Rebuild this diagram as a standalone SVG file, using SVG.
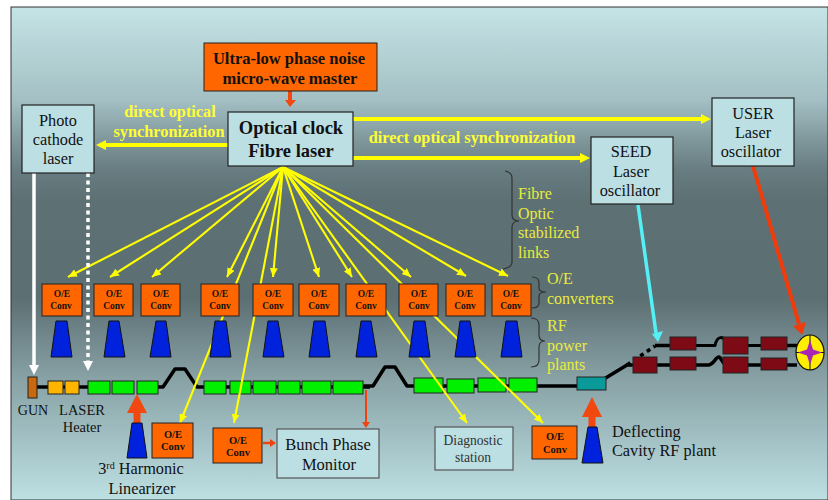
<svg xmlns="http://www.w3.org/2000/svg" width="828" height="500" viewBox="0 0 828 500">
<style>
text{font-family:"Liberation Serif",serif;fill:#111;text-anchor:middle}
.b{font-weight:bold}
.y{fill:#e9ec3c;text-anchor:start;font-size:16px}
.yb{fill:#ffff33;font-weight:bold;font-size:16.3px}
.box{fill:#bcdfe3;stroke:#222;stroke-width:1.2}
.oe{fill:#ff6600;stroke:#222;stroke-width:1}
.kl{fill:#0022dd;stroke:#111;stroke-width:1}
.g{fill:#00f000;stroke:#222;stroke-width:1}
.r{fill:#7d0a14;stroke:#222;stroke-width:1}
.fl{stroke:#ffff00;stroke-width:2.1;fill:none}
.tl{stroke:#ffff00;stroke-width:4;fill:none}
.bl{stroke:#000;stroke-width:3.5;fill:none;stroke-linejoin:round}
.br{stroke:#333;stroke-width:1.2;fill:none}
.c{font-size:9.5px;font-weight:bold}
.cl{font-size:10.5px;font-weight:bold}
.t16{font-size:16.3px}
</style>
<defs>
<linearGradient id="bg" x1="0" y1="0" x2="0" y2="1">
<stop offset="0" stop-color="#c5e4e6"/><stop offset="0.19" stop-color="#a3bfc3"/><stop offset="0.27" stop-color="#7f979b"/><stop offset="0.33" stop-color="#687d81"/><stop offset="0.39" stop-color="#5d7175"/><stop offset="0.59" stop-color="#5c6f73"/><stop offset="0.755" stop-color="#88a2a6"/><stop offset="1" stop-color="#bde0e3"/>
</linearGradient>
<marker id="ym" markerWidth="10" markerHeight="8" refX="9" refY="4" orient="auto" markerUnits="userSpaceOnUse"><path d="M0 0L9 4L0 8z" fill="#ffff00"/></marker>
<marker id="yM" markerWidth="10" markerHeight="10" refX="0" refY="5" orient="auto" markerUnits="userSpaceOnUse"><path d="M0 0L10 5L0 10z" fill="#ffff00"/></marker>
</defs>
<rect x="0" y="0" width="828" height="500" fill="#fff"/>
<rect x="11" y="7" width="817" height="493" fill="url(#bg)" stroke="#333" stroke-width="1"/>
<g id="beamline">
<path class="bl" d="M36 387H88"/>
<path class="bl" d="M156 387H163L175 369H185L197 387H370"/>
<path class="bl" d="M362 386H373L385 367H395L407 386H580"/>
<path class="bl" d="M604 379L627 365H640"/>
<path class="bl" d="M627 365L655 346" stroke-dasharray="4 4"/>
<path class="bl" d="M655 345.500H672"/>
<path class="bl" d="M694 345.500H715C717 336 724 334 727 345.500H790" style="stroke-width:3"/>
<path class="bl" d="M655 365H708C714 365 716 356 719 357C722 358 722 365 728 365H797"/>
<path class="bl" d="M780 345.500H797"/>
</g>
<g id="accel">
<rect class="g" x="88" y="381" width="22" height="13"/><rect class="g" x="112" y="381" width="22" height="13"/><rect class="g" x="137" y="381" width="21" height="13"/>
<rect class="g" x="204" y="381" width="22" height="13"/><rect class="g" x="230" y="381" width="21" height="13"/><rect class="g" x="253" y="381" width="23" height="13"/><rect class="g" x="278" y="381" width="22" height="13"/><rect class="g" x="302" y="381" width="29" height="13"/><rect class="g" x="333" y="381" width="30" height="13"/>
<rect class="g" x="414" y="378" width="29" height="15"/><rect class="g" x="447" y="379" width="27" height="14"/><rect class="g" x="478" y="378" width="28" height="14"/><rect class="g" x="509" y="378" width="28" height="14"/>
</g>
<g id="connectors">
<path class="tl" d="M353 119H701" marker-end="url(#yM)"/>
<path class="tl" d="M353 158H580" marker-end="url(#yM)"/>
<path class="tl" d="M228 145H106" marker-end="url(#yM)"/>
<g class="fl">
<path d="M283 167L68 277" marker-end="url(#ym)"/>
<path d="M283 167L110 277" marker-end="url(#ym)"/>
<path d="M283 167L152 277" marker-end="url(#ym)"/>
<path d="M283 167L227 277" marker-end="url(#ym)"/>
<path d="M283 167L273 277" marker-end="url(#ym)"/>
<path d="M283 167L319 277" marker-end="url(#ym)"/>
<path d="M283 167L352 277" marker-end="url(#ym)"/>
<path d="M283 167L411 277" marker-end="url(#ym)"/>
<path d="M283 167L466 276" marker-end="url(#ym)"/>
<path d="M283 167L508 276" marker-end="url(#ym)"/>
<path d="M283 167L180 423" marker-end="url(#ym)"/>
<path d="M283 167L234 423" marker-end="url(#ym)"/>
<path d="M283 167L467 423" marker-end="url(#ym)"/>
<path d="M283 167L543 423" marker-end="url(#ym)"/>
</g>
<path d="M34 173V366" stroke="#fff" stroke-width="3.500" fill="none"/>
<path d="M29 365H39L34 375z" fill="#fff"/>
<path d="M88 173V363" stroke="#fff" stroke-width="3.500" stroke-dasharray="4 3.500" fill="none"/>
<path d="M83 361H93L88 371z" fill="#fff"/>
<path d="M753 166L799 324" stroke="#f03c0a" stroke-width="4" fill="none"/>
<path d="M793 326L806 322L802 335z" fill="#f03c0a"/>
<path d="M638 205L656 333" stroke="#55f0f5" stroke-width="3.500" fill="none"/>
<path d="M652 334L663 331L658 342z" fill="#55f0f5"/>
<path d="M290 91V101" stroke="#f0480f" stroke-width="4"/>
<path d="M285 100H296L290 107z" fill="#f0480f"/>
<path d="M137 423V412" stroke="#f0480f" stroke-width="7"/>
<path d="M127 413H147L137 394z" fill="#f0480f"/>
<path d="M592 427V416" stroke="#f0480f" stroke-width="7"/>
<path d="M582 417H602L592 397z" fill="#f0480f"/>
<path d="M366 390V424" stroke="#f0420f" stroke-width="2"/>
<path d="M362 422H370L366 428z" fill="#f0420f"/>
<path d="M263 443H271" stroke="#f0420f" stroke-width="2.500"/>
<path d="M270 439L276 443L270 447z" fill="#f0420f"/>
</g>
<g id="n-master"><rect class="oe" x="204" y="43" width="173" height="48"/><text class="b" x="289" y="64" font-size="16.500">Ultra-low phase noise</text><text class="b" x="290" y="84" font-size="16.500">micro-wave master</text></g>
<g id="n-clock"><rect class="box" x="228" y="112" width="125" height="54"/><text class="b" x="291" y="134" font-size="18.500">Optical clock</text><text class="b" x="291" y="157" font-size="18.500">Fibre laser</text></g>
<g id="n-photo"><rect class="box" x="22" y="105" width="72" height="68"/><text class="t16" x="58" y="126">Photo</text><text class="t16" x="58" y="145">cathode</text><text class="t16" x="58" y="164">laser</text></g>
<g id="n-seed"><rect class="box" x="591" y="137" width="82" height="67"/><text class="t16" x="631" y="157">SEED</text><text class="t16" x="631" y="177">Laser</text><text class="t16" x="630" y="196">oscillator</text></g>
<g id="n-user"><rect class="box" x="712" y="98" width="82" height="68"/><text class="t16" x="753" y="119">USER</text><text class="t16" x="753" y="138">Laser</text><text class="t16" x="751" y="157">oscillator</text></g>
<text class="yb" x="170" y="117">direct optical</text>
<text class="yb" x="169" y="137">synchronization</text>
<text class="yb" x="472" y="143">direct optical synchronization</text>
<g id="labels-right">
<path class="br" d="M505 171C510 172 512 174 512 178V215C512 219 514 221 519 221C514 221 512 223 512 227V262C512 266 509 268 503 269"/>
<text class="y" x="518" y="199">Fibre</text>
<text class="y" x="518" y="219">Optic</text>
<text class="y" x="518" y="238">stabilized</text>
<text class="y" x="518" y="258">links</text>
<path class="br" d="M532 277C537 277 539 279 539 283V288C539 291 541 292 546 292C541 292 539 293 539 296V303C539 306 537 308 532 308"/>
<text class="y" x="547" y="284">O/E</text>
<text class="y" x="547" y="304">converters</text>
<path class="br" d="M531 318C536 318 539 320 539 325V335C539 339 541 341 545 341C541 341 539 343 539 347V360C539 365 536 367 531 367"/>
<text class="y" x="547" y="331">RF</text>
<text class="y" x="547" y="351">power</text>
<text class="y" x="547" y="370">plants</text>
</g>
<g id="n-oe1"><rect class="oe" x="42" y="284" width="40" height="32"/><text class="c" x="62" y="297">O/E</text><text class="c" x="61" y="309">Conv</text></g>
<g id="n-oe2"><rect class="oe" x="94" y="284" width="39" height="32"/><text class="c" x="114" y="297">O/E</text><text class="c" x="114" y="309">Conv</text></g>
<g id="n-oe3"><rect class="oe" x="141" y="284" width="39" height="32"/><text class="c" x="161" y="297">O/E</text><text class="c" x="161" y="309">Conv</text></g>
<g id="n-oe4"><rect class="oe" x="201" y="284" width="38" height="32"/><text class="c" x="220" y="297">O/E</text><text class="c" x="220" y="309">Conv</text></g>
<g id="n-oe5"><rect class="oe" x="253" y="284" width="40" height="32"/><text class="c" x="273" y="297">O/E</text><text class="c" x="273" y="309">Conv</text></g>
<g id="n-oe6"><rect class="oe" x="299" y="284" width="40" height="32"/><text class="c" x="319" y="297">O/E</text><text class="c" x="319" y="309">Conv</text></g>
<g id="n-oe7"><rect class="oe" x="346" y="284" width="40" height="32"/><text class="c" x="366" y="297">O/E</text><text class="c" x="366" y="309">Conv</text></g>
<g id="n-oe8"><rect class="oe" x="399" y="284" width="39" height="32"/><text class="c" x="419" y="297">O/E</text><text class="c" x="419" y="309">Conv</text></g>
<g id="n-oe9"><rect class="oe" x="446" y="284" width="39" height="32"/><text class="c" x="465" y="297">O/E</text><text class="c" x="465" y="309">Conv</text></g>
<g id="n-oe10"><rect class="oe" x="492" y="284" width="39" height="32"/><text class="c" x="511" y="297">O/E</text><text class="c" x="511" y="309">Conv</text></g>
<g id="klystrons">
<path class="kl" d="M56 321H67L72 357H51z"/>
<path class="kl" d="M109 321H119L125 357H104z"/>
<path class="kl" d="M156 321H166L171 357H150z"/>
<path class="kl" d="M215 321H226L231 357H210z"/>
<path class="kl" d="M268 321H278L284 357H263z"/>
<path class="kl" d="M314 321H325L330 357H309z"/>
<path class="kl" d="M361 321H371L377 357H356z"/>
<path class="kl" d="M414 321H425L430 357H409z"/>
<path class="kl" d="M460 321H470L476 357H455z"/>
<path class="kl" d="M506 321H517L522 357H501z"/>
<path class="kl" d="M132 423H142L147 458H127z"/>
<path class="kl" d="M588 427H597L603 463H582z"/>
</g>
<g id="n-gun"><rect x="28" y="377" width="9" height="21" fill="#c8690f" stroke="#222"/><text x="33" y="415" font-size="14">GUN</text></g>
<g id="n-heater"><rect x="48" y="381" width="15" height="13" fill="#ffb400" stroke="#222"/><rect x="65" y="381" width="14" height="13" fill="#ffb400" stroke="#222"/><text x="82" y="415" font-size="14.500">LASER</text><text x="82" y="432" font-size="14.500">Heater</text></g>
<g id="n-deflector"><rect x="577" y="377" width="29" height="13" fill="#0a9a9a" stroke="#222"/></g>
<g id="undulators">
<rect class="r" x="670" y="337" width="26" height="13"/><rect class="r" x="723" y="337" width="25" height="17"/><rect class="r" x="761" y="337" width="26" height="13"/>
<rect class="r" x="633" y="357" width="24" height="16"/><rect class="r" x="670" y="357" width="26" height="13"/><rect class="r" x="723" y="357" width="25" height="16"/><rect class="r" x="761" y="358" width="26" height="12"/>
</g>
<g id="n-target"><ellipse cx="810" cy="352.500" rx="14" ry="17.500" fill="#ffee00" stroke="#111" stroke-width="1.200"/><path d="M796 352.500H824M810 335V370" stroke="#111" stroke-width="1"/><path d="M810 340L813 349.500L822 352.500L813 355.500L810 365L807 355.500L798 352.500L807 349.500z" fill="#a825b5"/></g>
<g id="n-oe-h"><rect class="oe" x="152" y="423" width="41" height="35"/><text class="cl" x="173" y="438">O/E</text><text class="cl" x="173" y="450">Conv</text></g>
<text class="t16" x="141" y="474">3<tspan font-size="10" dy="-5">rd</tspan><tspan dy="5"> Harmonic</tspan></text>
<text class="t16" x="142" y="494">Linearizer</text>
<g id="n-oe-b"><rect class="oe" x="213" y="428" width="49" height="35"/><text class="cl" x="238" y="444">O/E</text><text class="cl" x="238" y="456">Conv</text></g>
<g id="n-bpm"><rect class="box" x="277" y="429" width="102" height="49" style="stroke:#555"/><text x="328" y="450" font-size="16.500">Bunch Phase</text><text x="329" y="470" font-size="16.500">Monitor</text></g>
<g id="n-diag"><rect class="box" x="435" y="427" width="78" height="43" style="stroke:#555"/><text x="473" y="445" font-size="13.600" style="fill:#333">Diagnostic</text><text x="473" y="462" font-size="13.600" style="fill:#333">station</text></g>
<g id="n-oe-d"><rect class="oe" x="532" y="426" width="45" height="33"/><text class="cl" x="555" y="440">O/E</text><text class="cl" x="555" y="453">Conv</text></g>
<text class="t16" x="612" y="437" style="text-anchor:start">Deflecting</text>
<text class="t16" x="612" y="456" style="text-anchor:start">Cavity RF plant</text>
</svg>
